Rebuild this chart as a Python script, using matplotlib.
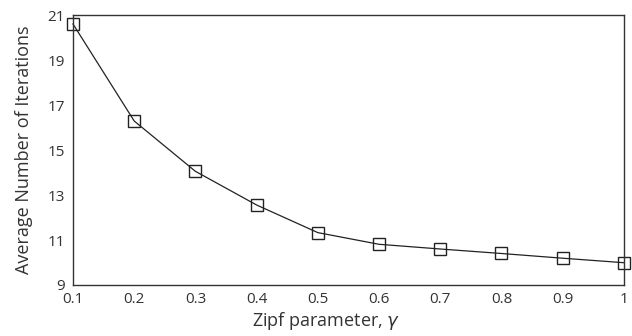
import matplotlib.pyplot as plt

# average iterations vs. Zipf skew
gamma = [0.1, 0.2, 0.3, 0.4, 0.5, 0.6, 0.7, 0.8, 0.9, 1.0]
avg_iters = [20.62, 16.30, 14.06, 12.56, 11.33, 10.81, 10.60, 10.40, 10.19, 9.99]
xtick_labels = ["0.1", "0.2", "0.3", "0.4", "0.5", "0.6", "0.7", "0.8", "0.9", "1"]
yticks = [9, 11, 13, 15, 17, 19, 21]

plt.rcParams['font.family'] = ['Open Sans', 'DejaVu Sans']
plt.rcParams['mathtext.fontset'] = 'dejavusans'

fig = plt.figure(figsize=(6.32, 3.36), dpi=100)
ax = fig.add_axes([0.1155, 0.152, 0.8715, 0.802])

ax.plot(gamma, avg_iters, color='#222222', linewidth=0.9, marker='s', markersize=8.5,
        markerfacecolor='none', markeredgecolor='#222222', markeredgewidth=1.0, clip_on=False)

ax.set_xlim(0.1, 1.0)
ax.set_ylim(9, 21)
ax.set_xticks(gamma)
ax.set_xticklabels(xtick_labels)
ax.set_yticks(yticks)
ax.tick_params(length=0, labelsize=11, colors='#333333')
ax.tick_params(axis='x', pad=5)
ax.tick_params(axis='y', pad=6)
for s in ax.spines.values():
    s.set_color('#333333')
    s.set_linewidth(1.0)

ax.set_xlabel(r'Zipf parameter, $\gamma$', fontsize=13, color='#333333')
ax.xaxis.set_label_coords(0.459, -0.093)
ax.set_ylabel('Average Number of Iterations', fontsize=13, color='#333333', labelpad=10)

fig.savefig('out.png', dpi=100)
